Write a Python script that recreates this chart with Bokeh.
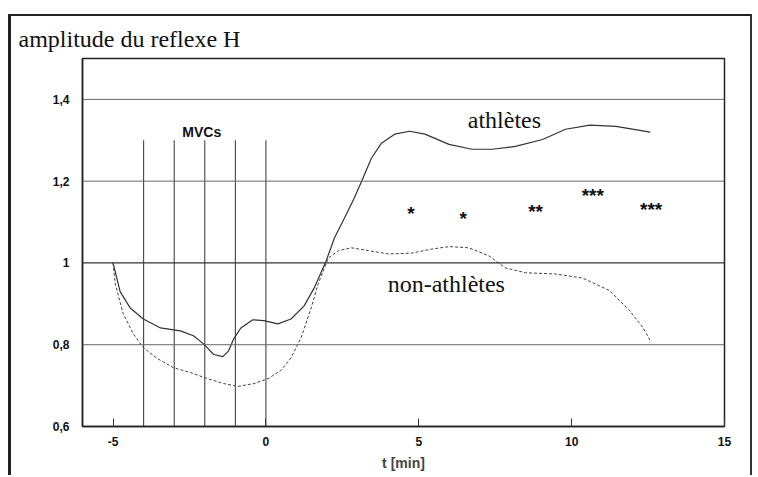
from bokeh.plotting import figure
from bokeh.models import FixedTicker, Span
from bokeh.core.properties import value
from bokeh.embed import file_html
from bokeh.resources import INLINE

# athletes (solid curve)
ath_t = [-5.0, -4.77, -4.44, -4.01, -3.45, -2.8, -2.37, -2.04, -1.71, -1.41, -1.22, -1.05, -0.82, -0.43,
         -0.07, 0.39, 0.82, 1.25, 1.58, 1.97, 2.24, 2.57, 2.89, 3.13, 3.45, 3.78, 4.21, 4.7, 5.2, 5.99,
         6.74, 7.4, 8.16, 9.05, 9.8, 10.6, 11.45, 12.57]
ath_y = [1.0, 0.93, 0.89, 0.863, 0.841, 0.834, 0.822, 0.802, 0.776, 0.771, 0.785, 0.815, 0.841, 0.861,
         0.859, 0.851, 0.863, 0.895, 0.939, 1.005, 1.061, 1.11, 1.159, 1.2, 1.256, 1.293, 1.315, 1.322, 1.315, 1.29,
         1.278, 1.278, 1.285, 1.302, 1.327, 1.337, 1.334, 1.32]

# non-athletes (dashed curve)
non_t = [-5.0, -4.93, -4.67, -4.34, -4.01, -3.55, -3.03, -2.47, -1.91, -1.38, -0.92, -0.39, 0.07, 0.49,
         0.82, 1.15, 1.48, 1.71, 2.04, 2.37, 2.8, 3.36, 4.01, 4.77, 5.43, 5.99, 6.64, 7.3, 7.83, 8.49, 9.47,
         10.36, 11.25, 11.9, 12.34, 12.57]
non_y = [1.0, 0.949, 0.876, 0.827, 0.793, 0.766, 0.744, 0.732, 0.717, 0.705, 0.698, 0.705, 0.717, 0.737,
         0.768, 0.817, 0.89, 0.949, 1.012, 1.03, 1.037, 1.03, 1.022, 1.024, 1.034, 1.04, 1.037, 1.017, 0.988,
         0.976, 0.973, 0.963, 0.932, 0.883, 0.841, 0.81]

# MVC markers
mvc_t = [-4, -3, -2, -1, 0]
mvc_top = 1.3

# significance stars
star_t = [4.74, 6.45, 8.82, 10.69, 12.6]
star_y = [1.132, 1.122, 1.137, 1.178, 1.144]
star_txt = ["*", "*", "**", "***", "***"]

y_ticks = [0.6, 0.8, 1.0, 1.2, 1.4]
y_labels = ["0,6", "0,8", "1", "1,2", "1,4"]
x_ticks = [-5, 0, 5, 10, 15]
x_labels = ["-5", "0", "5", "10", "15"]
grid_y = [0.8, 1.0, 1.2, 1.4]

p = figure(width=744, height=461, x_range=(-6, 15), y_range=(0.6, 1.5),
           output_backend="svg", toolbar_location=None,
           min_border_left=71, min_border_right=31, min_border_top=42, min_border_bottom=51)
# outer frame around the whole chart
p.styles = {"margin-left": "8px", "margin-top": "14px",
            "border-top": "2px solid #222", "border-left": "3px solid #222",
            "border-right": "2px solid #333"}

p.title.text = "amplitude du reflexe H"
p.title.text_font = "Liberation Serif"
p.title.text_font_size = "24px"
p.title.text_font_style = "normal"
p.title.text_color = "#111"
p.title.align = "left"
p.title.offset = -64
p.title.standoff = 13

p.xgrid.visible = False
p.ygrid.visible = False
p.outline_line_color = "#222"
p.outline_line_width = 1.5
p.background_fill_color = "white"

for ax in (p.xaxis[0], p.yaxis[0]):
    ax.axis_line_color = "#222"
    ax.axis_line_width = 1.5
    ax.major_label_text_font = "Liberation Sans"
    ax.major_label_text_font_style = "bold"
    ax.major_label_text_font_size = "12px"
    ax.major_label_text_color = "#111"
    ax.minor_tick_line_color = None

p.xaxis.ticker = FixedTicker(ticks=x_ticks)
p.xaxis.major_label_overrides = {t: l for t, l in zip(x_ticks, x_labels)}
p.xaxis.major_tick_in = 8
p.xaxis.major_tick_out = 0
p.xaxis.major_tick_line_color = "#333"
p.xaxis.major_label_standoff = 10
p.xaxis.axis_label = "t [min]"
p.xaxis.axis_label_text_font = "Liberation Sans"
p.xaxis.axis_label_text_font_style = "bold"
p.xaxis.axis_label_text_font_size = "14px"
p.xaxis.axis_label_standoff = 6

p.yaxis.ticker = FixedTicker(ticks=y_ticks)
p.yaxis.major_label_overrides = {t: l for t, l in zip(y_ticks, y_labels)}
p.yaxis.major_tick_in = 0
p.yaxis.major_tick_out = 0
p.yaxis.major_label_standoff = 13

for g in grid_y:
    p.add_layout(Span(location=g, dimension="width", line_color="#333" if g == 1.0 else "#666",
                      line_width=1.3 if g == 1.0 else 1))

p.segment(x0=mvc_t, y0=[0.6] * len(mvc_t), x1=mvc_t, y1=[mvc_top] * len(mvc_t),
          line_color="#333", line_width=1)
p.text(x=[-2.1], y=[1.32], text=["MVCs"], text_font=value("Liberation Sans"),
       text_font_style="bold", text_font_size="14px", text_align="center", text_baseline="middle",
       text_color="#111")

p.line(ath_t, ath_y, line_color="#333", line_width=1.2)
p.line(non_t, non_y, line_color="#444", line_width=1, line_dash="3 2")

p.text(x=star_t, y=star_y, text=star_txt, text_font=value("Liberation Sans"), text_font_style="bold",
       text_font_size="19px", text_align="center", text_baseline="middle", text_color="#111",
       y_offset=5)

p.text(x=[7.8, 5.9], y=[1.35, 0.949], text=["athlètes", "non-athlètes"],
       text_font=value("Liberation Serif"), text_font_size="24px", text_align="center",
       text_baseline="middle", text_color="#111")

open("out.html", "w").write(file_html(p, INLINE))
